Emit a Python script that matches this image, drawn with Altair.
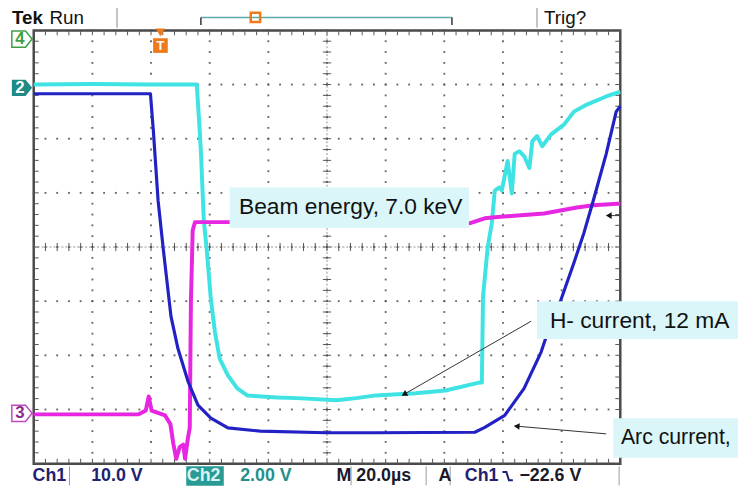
import altair as alt
import numpy as np
import pandas as pd

# ---------------- trace data (x in divisions, 20 µs/div; y in divisions) ----------------
# Ch2 cyan: H- current
h_x = [0.00, 1.00, 1.96, 2.78, 2.82, 2.85, 2.90, 2.95, 3.02, 3.09, 3.17, 3.31, 3.47, 3.64,
       4.15, 4.49, 5.16, 5.50, 5.83, 6.51, 7.02, 7.61, 7.64, 7.66, 7.74, 7.81, 7.86, 7.94,
       7.98, 8.08, 8.15, 8.20, 8.28, 8.36, 8.45, 8.50, 8.58, 8.67, 8.82, 9.04, 9.21, 9.43,
       9.76, 10.00]
h_y = [3.00, 3.01, 3.00, 3.00, 2.32, 1.77, 0.49, -0.05, -0.97, -1.57, -2.06, -2.37, -2.61, -2.74,
       -2.78, -2.79, -2.83, -2.79, -2.74, -2.70, -2.65, -2.50, -2.50, -0.91, 0.00, 0.44, 1.04, 1.10,
       1.04, 1.59, 0.99, 1.72, 1.77, 1.68, 1.46, 1.95, 2.05, 1.86, 2.08, 2.26, 2.50, 2.63,
       2.78, 2.87]

# Ch1 blue: arc current
arc_x = [0.00, 1.99, 2.04, 2.12, 2.21, 2.34, 2.46, 2.63, 2.80, 3.02, 3.31, 3.86, 4.99, 5.83,
         7.52, 7.69, 8.03, 8.36, 8.65, 8.82, 8.99, 9.21, 9.38, 9.54, 9.76, 9.93, 10.00]
arc_y = [2.83, 2.83, 2.14, 0.86, -0.05, -1.28, -1.88, -2.48, -2.92, -3.16, -3.34, -3.40, -3.43, -3.43,
         -3.42, -3.33, -3.11, -2.61, -1.94, -1.39, -0.97, -0.29, 0.26, 0.86, 1.72, 2.50, 2.60]

# Ch3 magenta: beam energy
beam_x = [0.00, 1.79, 1.91, 1.96, 2.01, 2.24, 2.33, 2.38, 2.43, 2.49, 2.55, 2.58, 2.63, 2.66,
          2.68, 2.71, 2.75, 3.64, 7.44, 7.69, 7.86, 8.70, 9.26, 9.54, 9.95, 10.00]
beam_y = [-3.09, -3.09, -3.02, -2.76, -3.02, -3.11, -3.27, -3.63, -3.91, -3.69, -3.65, -3.91, -3.52, -3.34,
          -1.00, 0.31, 0.46, 0.46, 0.44, 0.53, 0.55, 0.62, 0.73, 0.77, 0.80, 0.80]

# ---------------- annotation text ----------------
callout_text = ["Beam energy, 7.0 keV", "H- current, 12 mA"]
callout_text_x = [3.50, 8.80]
callout_text_y = [0.73, -1.36]
arc_text = ["Arc current,"]
arc_text_x = [10.01]
arc_text_y = [-3.53]
callout_box_x = [3.34, 8.58, 9.88]
callout_box_x2 = [7.42, 12.2, 12.2]
callout_box_y = [1.10, -1.00, -3.16]
callout_box_y2 = [0.35, -1.70, -3.89]

arrow_x1 = [8.48, 9.76, 9.99]
arrow_y1 = [-1.37, -3.45, 0.58]
arrow_x2 = [6.33, 8.25, 9.82]
arrow_y2 = [-2.71, -3.31, 0.58]
arrow_angle = [240, 275, 270]

status_navy = ["Ch1", "10.0 V", "Ch1"]
status_navy_x = [-0.02, 0.98, 7.35]
status_dark = ["M", "20.0µs", "A", "−22.6 V"]
status_dark_x = [5.16, 5.50, 6.90, 8.28]
status_teal = ["2.00 V"]
status_teal_x = [3.52]
status_sep_x = [0.61, 5.41, 6.69, 7.10, 9.98]

chan_label = ["4", "2", "3"]
chan_y = [3.84, 2.94, -3.07]

X = alt.Scale(domain=[0, 10], nice=False, zero=False)
Y = alt.Scale(domain=[-4, 4], nice=False, zero=False)


def enc(x="x", y="y", **kw):
    d = dict(x=alt.X(f"{x}:Q", scale=X, axis=None), y=alt.Y(f"{y}:Q", scale=Y, axis=None))
    d.update(kw)
    return d


# ---------------- graticule ----------------
minor_x = np.round(np.arange(0, 10.0001, 0.2), 4)
minor_y = np.round(np.arange(-4, 4.0001, 0.2), 4)
dots = [(mx, gy) for gy in [-3, -2, -1, 0, 1, 2, 3] for mx in minor_x]
dots += [(gx, my) for gx in range(1, 10) for my in minor_y]
dots_df = pd.DataFrame(dots, columns=["x", "y"])

ticks = []
for mx in minor_x:
    ticks.append((mx, -0.075, mx, 0.075))
    ticks.append((mx, 4.0, mx, 3.91))
    ticks.append((mx, -4.0, mx, -3.91))
for my in minor_y:
    ticks.append((4.93, my, 5.07, my))
    ticks.append((0.0, my, 0.085, my))
    ticks.append((10.0, my, 9.915, my))
ticks_df = pd.DataFrame(ticks, columns=["x", "y", "x2", "y2"])

grid_dots = alt.Chart(dots_df).mark_square(size=3.5, color="#555555", opacity=0.9).encode(**enc())
grid_ticks = alt.Chart(ticks_df).mark_rule(color="#555555", strokeWidth=1).encode(
    **enc(x2=alt.X2("x2:Q"), y2=alt.Y2("y2:Q")))
center_lines = alt.Chart(pd.DataFrame({"x": [0, 5], "y": [0, -4], "x2": [10, 5], "y2": [0, 4]})).mark_rule(
    color="#777777", strokeWidth=0.8, strokeDash=[2, 2]).encode(**enc(x2=alt.X2("x2:Q"), y2=alt.Y2("y2:Q")))


def trace(xs, ys, color, width):
    df = pd.DataFrame({"x": xs, "y": ys, "i": range(len(xs))})
    return alt.Chart(df).mark_line(color=color, strokeWidth=width, strokeJoin="round").encode(
        **enc(order=alt.Order("i:Q")))


cyan = trace(h_x, h_y, "#3fe3e3", 4)
magenta = trace(beam_x, beam_y, "#e626e0", 4)
blue = trace(arc_x, arc_y, "#2222c4", 3.2)

# ---------------- callouts ----------------
box_df = pd.DataFrame({"x": callout_box_x, "x2": callout_box_x2, "y": callout_box_y, "y2": callout_box_y2})
boxes = alt.Chart(box_df).mark_rect(color="#daf6f8").encode(
    **enc(x2=alt.X2("x2:Q"), y2=alt.Y2("y2:Q")))
ctext_df = pd.DataFrame({"x": callout_text_x, "y": callout_text_y, "t": callout_text})
ctexts = alt.Chart(ctext_df).mark_text(align="left", baseline="middle", font="Liberation Sans",
                                       fontSize=23, color="#111111").encode(**enc(text="t:N"))
atext_df = pd.DataFrame({"x": arc_text_x, "y": arc_text_y, "t": arc_text})
atexts = alt.Chart(atext_df).mark_text(align="left", baseline="middle", font="Liberation Sans",
                                       fontSize=21.5, color="#111111").encode(**enc(text="t:N"))

arr_df = pd.DataFrame({"x": arrow_x1, "y": arrow_y1, "x2": arrow_x2, "y2": arrow_y2, "a": arrow_angle})
arr_lines = alt.Chart(arr_df).mark_rule(color="#333333", strokeWidth=1).encode(
    **enc(x2=alt.X2("x2:Q"), y2=alt.Y2("y2:Q")))
arr_heads = alt.Chart(arr_df).mark_point(shape="triangle", filled=True, size=45, color="#111111",
                                         opacity=1).encode(
    **enc(x="x2", y="y2", angle=alt.Angle("a:Q", scale=None)))

# ---------------- top bar ----------------
top_bold = alt.Chart(pd.DataFrame({"x": [-0.37], "y": [4.23], "t": ["Tek"]})).mark_text(
    align="left", baseline="middle", font="Liberation Sans", fontSize=19, fontWeight="bold",
    color="#111111").encode(**enc(text="t:N"))
top_reg = alt.Chart(pd.DataFrame({"x": [0.27, 8.70], "y": [4.23, 4.23], "t": ["Run", "Trig?"]})).mark_text(
    align="left", baseline="middle", font="Liberation Sans", fontSize=19, color="#111111").encode(
    **enc(text="t:N"))
top_seps = alt.Chart(pd.DataFrame({"x": [1.42, 8.58], "y": [4.42, 4.42], "y2": [4.05, 4.05]})).mark_rule(
    color="#888888", strokeWidth=1).encode(**enc(y2=alt.Y2("y2:Q")))
rec_bar = alt.Chart(pd.DataFrame({"x": [2.85], "x2": [7.13], "y": [4.24]})).mark_rule(
    color="#5fa9a6", strokeWidth=1.5).encode(**enc(x2=alt.X2("x2:Q")))
rec_ends = alt.Chart(pd.DataFrame({"x": [2.85, 7.13], "y": [4.24, 4.24], "y2": [4.10, 4.10]})).mark_rule(
    color="#333333", strokeWidth=1.5).encode(**enc(y2=alt.Y2("y2:Q")))
rec_mark = alt.Chart(pd.DataFrame({"x": [3.78], "y": [4.24]})).mark_point(
    shape="square", size=90, filled=False, color="#f07a1a", strokeWidth=2.5, opacity=1).encode(**enc())

trig_tri = alt.Chart(pd.DataFrame({"x": [2.16], "y": [3.96]})).mark_point(
    shape="triangle-down", size=90, filled=True, color="#f07a1a", opacity=1).encode(**enc())
trig_box = alt.Chart(pd.DataFrame({"x": [2.16], "y": [3.72]})).mark_point(
    shape="square", size=220, filled=True, color="#f07a1a", opacity=1).encode(**enc())
trig_t = alt.Chart(pd.DataFrame({"x": [2.16], "y": [3.72], "t": ["T"]})).mark_text(
    baseline="middle", font="Liberation Sans", fontSize=13, fontWeight="bold", color="white").encode(
    **enc(text="t:N"))

# ---------------- channel markers ----------------
pent = "M -1 -0.8 L 0.35 -0.8 L 1 0 L 0.35 0.8 L -1 0.8 Z"
ch_df = pd.DataFrame({"x": [-0.2] * 3, "y": chan_y, "t": chan_label})
ch4 = alt.Chart(ch_df.iloc[[0]]).mark_point(shape=pent, size=420, filled=False, color="#3f9f46",
                                            strokeWidth=1.5, opacity=1).encode(**enc())
ch2 = alt.Chart(ch_df.iloc[[1]]).mark_point(shape=pent, size=420, filled=True, color="#1f8a86",
                                            opacity=1).encode(**enc())
ch3 = alt.Chart(ch_df.iloc[[2]]).mark_point(shape=pent, size=420, filled=False, color="#c04ac0",
                                            strokeWidth=1.5, opacity=1).encode(**enc())
ch4t = alt.Chart(ch_df.iloc[[0]]).mark_text(dx=-2, baseline="middle", font="Liberation Sans", fontSize=17,
                                            fontWeight="bold", color="#3f9f46").encode(**enc(text="t:N"))
ch2t = alt.Chart(ch_df.iloc[[1]]).mark_text(dx=-2, baseline="middle", font="Liberation Sans", fontSize=17,
                                            fontWeight="bold", color="white").encode(**enc(text="t:N"))
ch3t = alt.Chart(ch_df.iloc[[2]]).mark_text(dx=-2, baseline="middle", font="Liberation Sans", fontSize=17,
                                            fontWeight="bold", color="#8a2a8a").encode(**enc(text="t:N"))

# ---------------- status bar ----------------
SY = -4.23


def status(texts, xs, color):
    df = pd.DataFrame({"x": xs, "y": [SY] * len(xs), "t": texts})
    return alt.Chart(df).mark_text(align="left", baseline="middle", font="Liberation Sans", fontSize=18,
                                   fontWeight="bold", color=color).encode(**enc(text="t:N"))


st_navy = status(status_navy, status_navy_x, "#1e2270")
st_dark = status(status_dark, status_dark_x, "#1a1a2a")
st_teal = status(status_teal, status_teal_x, "#23908c")
ch2_box = alt.Chart(pd.DataFrame({"x": [2.60], "x2": [3.24], "y": [-4.05], "y2": [-4.41]})).mark_rect(
    color="#2a9a95").encode(**enc(x2=alt.X2("x2:Q"), y2=alt.Y2("y2:Q")))
st_ch2 = status(["Ch2"], [2.61], "#d8f4f2")
st_seps = alt.Chart(pd.DataFrame({"x": status_sep_x, "y": [-4.05] * len(status_sep_x),
                                  "y2": [-4.40] * len(status_sep_x)})).mark_rule(
    color="#9a9a9a", strokeWidth=1).encode(**enc(y2=alt.Y2("y2:Q")))
edge_icon = alt.Chart(pd.DataFrame({"x": [8.08], "y": [SY]})).mark_point(
    shape="M -1 -0.8 L -0.25 -0.8 L 0.25 0.8 L 1 0.8", size=110, filled=False, color="#1e2270",
    strokeWidth=2, opacity=1).encode(**enc())

chart = alt.layer(
    grid_dots, center_lines, grid_ticks,
    cyan, magenta, blue,
    boxes, ctexts, atexts, arr_lines, arr_heads,
    top_seps, rec_bar, rec_ends, rec_mark, top_bold, top_reg,
    trig_tri, trig_box, trig_t,
    ch4, ch2, ch3, ch4t, ch2t, ch3t,
    ch2_box, st_seps, st_navy, st_dark, st_teal, st_ch2, edge_icon,
).properties(
    width=593, height=438,
    autosize=alt.AutoSizeParams(type="none"),
    padding={"left": 26, "top": 20, "right": 119, "bottom": 23},
    background="white",
).configure_view(stroke="#4a4a4a", strokeWidth=2.5)

chart.save("out.html", embed_options={"renderer": "svg", "actions": False})
